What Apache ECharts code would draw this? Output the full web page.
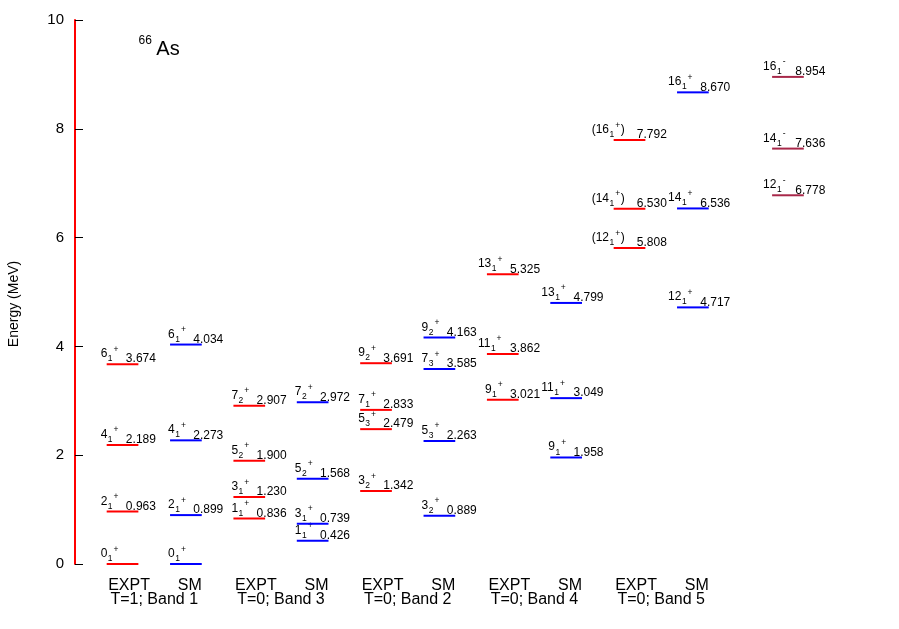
<!DOCTYPE html>
<html><head><meta charset="utf-8">
<script src="https://cdn.jsdelivr.net/npm/echarts@6.0.0/dist/echarts.min.js"></script>
<style>html,body{margin:0;padding:0;background:#fff}#c{width:899px;height:629px}</style>
</head><body><div id="c"></div>
<script>
// ---------------- data ----------------
const bandLabels = ['T=1; Band 1', 'T=0; Band 3', 'T=0; Band 2', 'T=0; Band 4', 'T=0; Band 5'];
const columnTypes = ['EXPT', 'SM'];
const yTicks = [0, 2, 4, 6, 8, 10];

const exptBand1 = [0, 0.963, 2.189, 3.674];
const exptBand1Spins = ['0_1^+', '2_1^+', '4_1^+', '6_1^+'];
const smBand1 = [0, 0.899, 2.273, 4.034];
const smBand1Spins = ['0_1^+', '2_1^+', '4_1^+', '6_1^+'];

const exptBand3 = [0.836, 1.230, 1.900, 2.907];
const exptBand3Spins = ['1_1^+', '3_1^+', '5_2^+', '7_2^+'];
const smBand3 = [0.426, 0.739, 1.568, 2.972];
const smBand3Spins = ['1_1^+', '3_1^+', '5_2^+', '7_2^+'];

const exptBand2 = [1.342, 2.479, 2.833, 3.691];
const exptBand2Spins = ['3_2^+', '5_3^+', '7_1^+', '9_2^+'];
const smBand2 = [0.889, 2.263, 3.585, 4.163];
const smBand2Spins = ['3_2^+', '5_3^+', '7_3^+', '9_2^+'];

const exptBand4 = [3.021, 3.862, 5.325];
const exptBand4Spins = ['9_1^+', '11_1^+', '13_1^+'];
const smBand4 = [1.958, 3.049, 4.799];
const smBand4Spins = ['9_1^+', '11_1^+', '13_1^+'];

const exptBand5 = [5.808, 6.530, 7.792];
const exptBand5Spins = ['(12_1^+)', '(14_1^+)', '(16_1^+)'];
const smBand5 = [4.717, 6.536, 8.670];
const smBand5Spins = ['12_1^+', '14_1^+', '16_1^+'];

const smNegParity = [6.778, 7.636, 8.954];
const smNegParitySpins = ['12_1^-', '14_1^-', '16_1^-'];

// ---------------- build ----------------
const FONT = '"Liberation Sans", Arial, Helvetica, sans-serif';
const COLORS = { EXPT: '#ff0000', SM: '#0000ff', NEG: '#a8284a' };
const columns = [
  { x: 0, kind: 'EXPT', e: exptBand1, s: exptBand1Spins, shift: -4 },
  { x: 1, kind: 'SM', e: smBand1, s: smBand1Spins, shift: 0 },
  { x: 2, kind: 'EXPT', e: exptBand3, s: exptBand3Spins, shift: 0 },
  { x: 3, kind: 'SM', e: smBand3, s: smBand3Spins, shift: 0 },
  { x: 4, kind: 'EXPT', e: exptBand2, s: exptBand2Spins, shift: 0 },
  { x: 5, kind: 'SM', e: smBand2, s: smBand2Spins, shift: 0 },
  { x: 6, kind: 'EXPT', e: exptBand4, s: exptBand4Spins, shift: 0 },
  { x: 7, kind: 'SM', e: smBand4, s: smBand4Spins, shift: 0 },
  { x: 8, kind: 'EXPT', e: exptBand5, s: exptBand5Spins, shift: 0 },
  { x: 9, kind: 'SM', e: smBand5, s: smBand5Spins, shift: 0 },
  { x: 10.5, kind: 'NEG', e: smNegParity, s: smNegParitySpins, shift: 0 }
];
const levels = [];
columns.forEach(c => c.e.forEach((v, i) => levels.push({ x: c.x, e: v, spin: c.s[i], kind: c.kind, shift: c.shift })));

const mctx = document.createElement('canvas').getContext('2d');
function tw(s, size) { mctx.font = size + 'px ' + FONT; return mctx.measureText(s).width; }
function txt(x, y, s, size, align) {
  return { type: 'text', x: x, y: y, style: { text: s, fill: '#000', font: size + 'px ' + FONT, align: align || 'left', verticalAlign: 'middle' } };
}

const HALF = 0.25;
const SUB = 8.5;
function renderLevel(params, api) {
  const L = levels[api.value(2)];
  const pL = api.coord([L.x - HALF, L.e]);
  const pR = api.coord([L.x + HALF, L.e]);
  const y = pL[1];
  const ch = [{ type: 'line', shape: { x1: pL[0], y1: y, x2: pR[0], y2: y }, style: { stroke: COLORS[L.kind], lineWidth: 2 } }];
  const m = /^(\(?)(\d+)_(\d+)\^([+-])(\)?)$/.exec(L.spin);
  const paren = m[1] === '(';
  const main = (paren ? '(' : '') + m[2];
  let x = pL[0] + L.shift - 2 - 7 * (m[2].length - 1) - (paren ? 13 : 0);
  ch.push(txt(x, y - 10.3, main, 12));
  const sx = x + tw(main, 12) + 0.5;
  ch.push(txt(sx, y - 5.3, m[3], SUB));
  const px = sx + tw(m[3], SUB) + 1;
  ch.push(txt(px, y - 14.8, m[4], SUB));
  if (paren) ch.push(txt(px + tw(m[4], SUB) + 0.5, y - 10.3, ')', 12));
  if (L.e !== 0) ch.push(txt(pR[0] + L.shift - 8.5, y - 5, L.e.toFixed(3), 12));
  return { type: 'group', children: ch };
}

function renderColLabel(params, api) {
  const col = api.value(0);
  const t = columnTypes[col % 2];
  const p0 = api.coord([col, 0]);
  if (t === 'EXPT') {
    const pl = api.coord([col - HALF, 0]);
    return txt(pl[0] + 1.5, p0[1] + 22, t, 16, 'left');
  }
  const pr = api.coord([col + HALF, 0]);
  return txt(pr[0], p0[1] + 22, t, 16, 'right');
}
function renderBandLabel(params, api) {
  const b = api.value(0);
  const p = api.coord([2 * b + 0.5, 0]);
  return txt(p[0], p[1] + 36, bandLabels[b], 16, 'center');
}

const chart = echarts.init(document.getElementById('c'), null, { renderer: 'canvas' });
chart.setOption({
  animation: false,
  backgroundColor: '#fff',
  grid: { left: 75, right: 16, top: 20, bottom: 65 },
  xAxis: { type: 'value', min: -0.75, max: 12, show: false },
  yAxis: {
    type: 'value', min: yTicks[0], max: yTicks[yTicks.length - 1], interval: 2,
    axisLine: { show: true, onZero: false, lineStyle: { color: '#ff0000', width: 2 } },
    axisTick: { show: true, inside: true, length: 8, lineStyle: { color: '#000', width: 1 } },
    axisLabel: { color: '#000', fontSize: 15, fontFamily: FONT, margin: 11 },
    splitLine: { show: false }
  },
  graphic: [
    { type: 'text', x: 14.5, y: 304, rotation: Math.PI / 2, style: { text: 'Energy (MeV)', font: '14px ' + FONT, fill: '#000', align: 'center', verticalAlign: 'middle' } },
    { type: 'text', x: 138.5, y: 40.8, style: { text: '66', font: '12px ' + FONT, fill: '#000', align: 'left', verticalAlign: 'middle' } },
    { type: 'text', x: 156.3, y: 49.5, style: { text: 'As', font: '20px ' + FONT, fill: '#000', align: 'left', verticalAlign: 'middle' } }
  ],
  series: [
    { type: 'custom', renderItem: renderLevel, data: levels.map((L, i) => [L.x, L.e, i]), clip: false, silent: true },
    { type: 'custom', renderItem: renderColLabel, data: [0,1,2,3,4,5,6,7,8,9].map(c => [c, 0]), clip: false, silent: true },
    { type: 'custom', renderItem: renderBandLabel, data: bandLabels.map((b, i) => [i, 0]), clip: false, silent: true }
  ]
});
</script>
</body></html>
